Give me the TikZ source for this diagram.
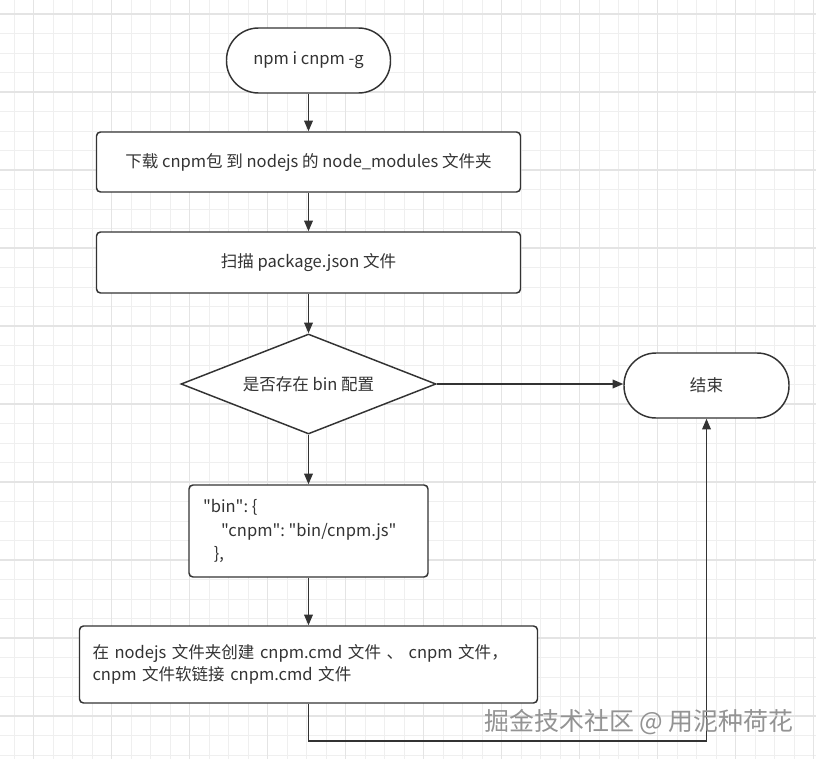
\documentclass[tikz,border=0pt]{standalone}
\usepackage{fontspec}
\newfontfamily\cjk{Noto Sans CJK SC}
\usetikzlibrary{shapes.geometric,arrows.meta}
\definecolor{txt}{HTML}{333333}
\definecolor{gminor}{HTML}{EFEFEF}
\definecolor{gmajor}{HTML}{E4E4E4}
\tikzset{
  box/.style={draw=txt, line width=1.1pt, fill=white, rounded corners=3pt, text=txt, font=\cjk\fontsize{12.4}{17}\selectfont, inner sep=0pt},
  term/.style={box, rounded corners=24pt},
  decide/.style={draw=txt, line width=1.1pt, fill=white, diamond, aspect=2.55, inner sep=0pt, text=txt, font=\cjk\fontsize{12.4}{17}\selectfont},
  arr/.style={draw=txt, line width=1.1pt, -{Triangle[length=8pt,width=6.5pt]}},
}
\begin{document}
\begin{tikzpicture}[x=0.75pt,y=-0.75pt]
\useasboundingbox (0,0) rectangle (816,759);
\fill[white] (0,0) rectangle (816,759);
% grid
\foreach \i in {0,...,41}{
  \pgfmathsetmacro{\xx}{14+19.5*\i}
  \draw[gminor, line width=0.6pt] (\xx,0) -- (\xx,759);
}
\foreach \j in {0,...,38}{
  \pgfmathsetmacro{\yy}{14+19.5*\j}
  \draw[gminor, line width=0.6pt] (0,\yy) -- (816,\yy);
}
\foreach \i in {0,...,10}{
  \pgfmathsetmacro{\xx}{33.5+78*\i}
  \draw[gmajor, line width=0.9pt] (\xx,0) -- (\xx,759);
}
\foreach \j in {0,...,9}{
  \pgfmathsetmacro{\yy}{14+78*\j}
  \draw[gmajor, line width=0.9pt] (0,\yy) -- (816,\yy);
}
% nodes
\node[term, minimum width=123pt, minimum height=48.75pt] (start) at (308.5,60.5) {npm i cnpm -g};
\node[box, minimum width=318pt, minimum height=45pt] (b1) at (308.5,162) {下载 cnpm包 到 nodejs 的 node\_modules 文件夹};
\node[box, minimum width=318pt, minimum height=45.75pt] (b2) at (308.5,262.5) {扫描 package.json 文件};
\node[decide, minimum width=191.25pt, minimum height=75pt] (dia) at (308.5,384) {是否存在 bin 配置};
\node[term, minimum width=123.75pt, minimum height=48.75pt] (end) at (706.5,385.5) {结束};
\node[box, minimum width=179.25pt, minimum height=69pt, inner xsep=10.5pt, text width=158.25pt, align=left, font=\cjk\fontsize{12.4}{17.5}\selectfont] (b3) at (308.5,531)
  {"bin":\hspace{0.22em}\{\\\hspace*{1.1em}"cnpm":\hspace{0.22em}"bin/cnpm.js"\\\hspace*{0.65em}\},};
\node[box, minimum width=343.5pt, minimum height=57.75pt, inner xsep=9.75pt, text width=324pt, align=left, font=\cjk\fontsize{12.4}{16.5}\selectfont] (b4) at (308.5,664.5)
  {在 nodejs 文件夹创建 cnpm.cmd 文件 、 cnpm 文件，\\cnpm 文件软链接 cnpm.cmd 文件};
\coordinate (turn) at (308.5,741);
% connectors
\draw[arr] (start) -- (b1);
\draw[arr] (b1) -- (b2);
\draw[arr] (b2) -- (dia);
\draw[arr] (dia.east) -- (dia.east -| end.west);
\draw[arr] (dia) -- (b3);
\draw[arr] (b3) -- (b4);
\draw[arr] (b4.south) -- (turn) -| (end.south);
% watermark
\node[text=gray!85, font=\cjk\fontsize{18.7}{20}\selectfont, inner sep=0pt] (wm) at (639,722) {掘金技术社区 @ 用泥种荷花};
\end{tikzpicture}
\end{document}
